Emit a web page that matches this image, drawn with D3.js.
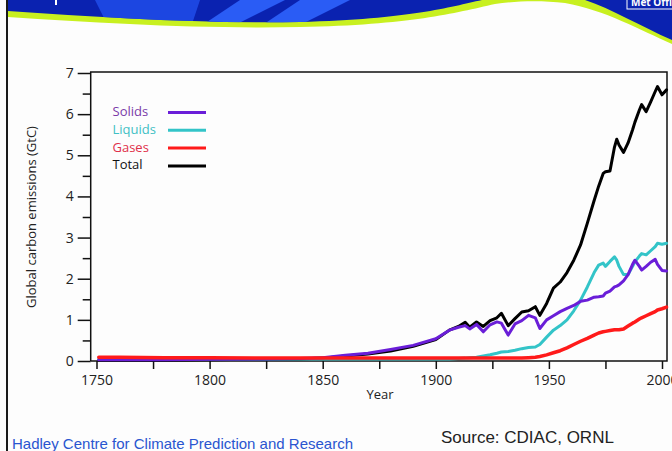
<!DOCTYPE html>
<html><head><meta charset="utf-8">
<script src="https://cdn.jsdelivr.net/npm/d3@7/dist/d3.min.js"></script>
<style>html,body{margin:0;padding:0;background:#fdfdfd;}svg{display:block;}</style>
</head><body>
<svg id="chart" width="672" height="451"></svg>
<script>
const years = [1751,1760,1780,1800,1820,1840,1850,1860,1870,1880,1890,1900,1906,1910,1913,1915,1918,1921,1924,1927,1929,1932,1935,1938,1941,1944,1946,1949,1952,1955,1958,1961,1964,1967,1970,1972,1974,1975,1977,1979,1980,1981,1983,1985,1987,1988,1990,1991,1993,1995,1997,1998,2000,2002];
const total   = [0.02,0.02,0.02,0.03,0.04,0.05,0.07,0.12,0.17,0.24,0.36,0.52,0.75,0.84,0.94,0.82,0.95,0.84,0.98,1.05,1.16,0.86,1.03,1.19,1.22,1.32,1.11,1.40,1.77,1.92,2.15,2.45,2.82,3.35,3.90,4.25,4.56,4.60,4.62,5.20,5.39,5.25,5.07,5.30,5.62,5.80,6.10,6.23,6.06,6.30,6.55,6.67,6.47,6.59];
const solids  = [0.03,0.03,0.03,0.04,0.05,0.06,0.08,0.14,0.19,0.28,0.38,0.54,0.75,0.82,0.86,0.78,0.89,0.71,0.88,0.95,0.92,0.63,0.90,0.98,1.11,1.05,0.79,1.00,1.10,1.20,1.28,1.35,1.45,1.48,1.55,1.56,1.58,1.65,1.70,1.80,1.82,1.85,1.95,2.10,2.35,2.45,2.30,2.21,2.30,2.40,2.47,2.35,2.20,2.19];
const liquids = [0.05,0.05,0.05,0.05,0.05,0.05,0.05,0.05,0.05,0.05,0.05,0.05,0.05,0.06,0.07,0.08,0.09,0.12,0.15,0.19,0.22,0.23,0.26,0.30,0.33,0.34,0.40,0.58,0.75,0.86,1.00,1.22,1.48,1.80,2.15,2.33,2.38,2.30,2.42,2.53,2.45,2.30,2.10,2.10,2.30,2.41,2.55,2.61,2.58,2.68,2.78,2.86,2.84,2.86];
const gases   = [0.09,0.09,0.08,0.08,0.07,0.07,0.07,0.07,0.07,0.07,0.07,0.07,0.07,0.07,0.07,0.07,0.07,0.07,0.07,0.07,0.07,0.07,0.07,0.07,0.08,0.09,0.11,0.15,0.20,0.25,0.32,0.40,0.48,0.55,0.63,0.68,0.71,0.72,0.74,0.76,0.76,0.76,0.78,0.85,0.92,0.95,1.02,1.05,1.10,1.15,1.20,1.24,1.27,1.31];
const seriesNames = ["Solids","Liquids","Gases","Total"];
const yTicks = [0,1,2,3,4,5,6,7];
const xTickYears = [1750,1775,1800,1825,1850,1875,1900,1925,1950,1975,2000];
const xLabelYears = [1750,1800,1850,1900,1950,2000];

const svg = d3.select("#chart");
const font = "'Open Sans', 'Noto Sans', sans-serif";

// ---- slide decoration (banner) ----
const deco = svg.append("g");
deco.append("path").attr("fill","#c8f020")
  .attr("d","M8,0 H672 V44 C640,30 605,10 565,3 C540,0 515,1 495,4 C455,13 410,25 300,27 C200,29 100,23 8,17 Z");
const defs = svg.append("defs");
defs.append("clipPath").attr("id","bl").append("path")
  .attr("d","M8,0 H482 C450,7 410,19 300,22 C200,24 100,17 8,11 Z");
deco.append("path").attr("fill","#0a22b0")
  .attr("d","M8,0 H482 C450,7 410,19 300,22 C200,24 100,17 8,11 Z");
const stripes = deco.append("g").attr("clip-path","url(#bl)");
stripes.append("path").attr("fill","#2050ee").attr("d","M95,0 L200,0 L190,30 L110,30 Z").attr("opacity",0.8);
stripes.append("path").attr("fill","#2a5cf5").attr("d","M240,0 L285,0 L225,30 L195,30 Z");
stripes.append("path").attr("fill","#2a5cf5").attr("d","M300,0 L350,0 L290,30 L255,30 Z");
deco.append("path").attr("fill","#0a22b0")
  .attr("d","M585,0 H672 V40 C640,26 612,9 585,0 Z");
deco.append("rect").attr("x",627).attr("y",-2).attr("width",46).attr("height",11)
  .attr("fill","none").attr("stroke","#ffffff").attr("stroke-width",1);
deco.append("text").attr("x",631).attr("y",6).attr("fill","#ffffff")
  .attr("font-family",font).attr("font-size",10).attr("font-weight",700).text("Met Office");
deco.append("rect").attr("x",55).attr("y",0).attr("width",2).attr("height",5).attr("fill","#ffffff");
deco.append("rect").attr("x",6).attr("y",0).attr("width",2).attr("height",451).attr("fill","#1a1a1a");

// ---- scales ----
const x = d3.scaleLinear().domain([1750,2000]).range([96.5,662]);
const y = d3.scaleLinear().domain([0,7]).range([361,73]);
const xLeft = 90.7, xRight = 667, yTop = 72, yBot = y(0);

// frame
const frame = svg.append("g").attr("stroke","#111").attr("stroke-width",1.5).attr("fill","none");
frame.append("path").attr("d",`M${xLeft},${yBot} V${yTop} H${xRight} V${yBot} H${xLeft}`);

// y axis
const yAxis = svg.append("g").attr("transform",`translate(${xLeft},0)`)
  .call(d3.axisLeft(y).tickValues(yTicks).tickSize(13).tickPadding(4).tickFormat(d3.format("d")));
yAxis.select(".domain").remove();
yAxis.selectAll("line").attr("stroke","#111").attr("stroke-width",1.5);
yAxis.selectAll("text").attr("font-family",font).attr("font-size",14).attr("fill","#222");
const yMinor = svg.append("g").attr("transform",`translate(${xLeft},0)`)
  .call(d3.axisLeft(y).tickValues(yTicks.slice(0,-1).map(d=>d+0.5)).tickSize(8).tickFormat(""));
yMinor.select(".domain").remove();
yMinor.selectAll("line").attr("stroke","#111").attr("stroke-width",1.5);

// x axis
const xAxis = svg.append("g").attr("transform",`translate(0,${yBot})`)
  .call(d3.axisBottom(x).tickValues(xTickYears).tickSize(8).tickPadding(6)
    .tickFormat(d => xLabelYears.includes(d) ? String(d) : ""));
xAxis.select(".domain").remove();
xAxis.selectAll("line").attr("stroke","#111").attr("stroke-width",1.5);
xAxis.selectAll("text").attr("font-family",font).attr("font-size",14).attr("fill","#222");

// axis titles
svg.append("text").attr("x",380).attr("y",399).attr("text-anchor","middle")
  .attr("font-family",font).attr("font-size",13).attr("fill","#222").text("Year");
svg.append("text").attr("transform","translate(36,217) rotate(-90)").attr("text-anchor","middle")
  .attr("font-family",font).attr("font-size",13).attr("fill","#222").text("Global carbon emissions (GtC)");

// ---- lines ----
const line = vals => d3.line().x((d,i)=>x(years[i])).y(d=>y(d)).curve(d3.curveLinear)(vals);
const lineColors = {Solids:"#6a1ed8",Liquids:"#33c4c8",Gases:"#ff1a1a",Total:"#000000"};
const textColors = {Solids:"#7a3aa8",Liquids:"#3fc0c4",Gases:"#e0304a",Total:"#111111"};
const data = {Solids:solids,Liquids:liquids,Gases:gases,Total:total};
const plotG = svg.append("g").attr("fill","none").attr("stroke-linejoin","round").attr("stroke-linecap","round");
["Total","Liquids","Solids","Gases"].forEach(k=>{
  plotG.append("path").attr("d",line(data[k])).attr("stroke",lineColors[k])
    .attr("stroke-width", k==="Gases"?3.5:3);
});

// ---- legend ----
const lg = svg.append("g");
seriesNames.forEach((k,i)=>{
  const by = 116 + i*17.8;
  lg.append("text").attr("x",112.5).attr("y",by).attr("font-family",font).attr("font-size",13)
    .attr("fill",textColors[k]).text(k);
  lg.append("line").attr("x1",168).attr("x2",206).attr("y1",by-3.5).attr("y2",by-3.5)
    .attr("stroke",lineColors[k]).attr("stroke-width",3);
});

// ---- footer ----
svg.append("text").attr("x",12).attr("y",449).attr("font-family","'Liberation Sans', Arial, sans-serif")
  .attr("font-size",15).attr("fill","#2a55d0").text("Hadley Centre for Climate Prediction and Research");
svg.append("text").attr("x",441).attr("y",443).attr("font-family","'Liberation Sans', Arial, sans-serif")
  .attr("font-size",17).attr("fill","#222").text("Source: CDIAC, ORNL");
</script>
</body></html>
